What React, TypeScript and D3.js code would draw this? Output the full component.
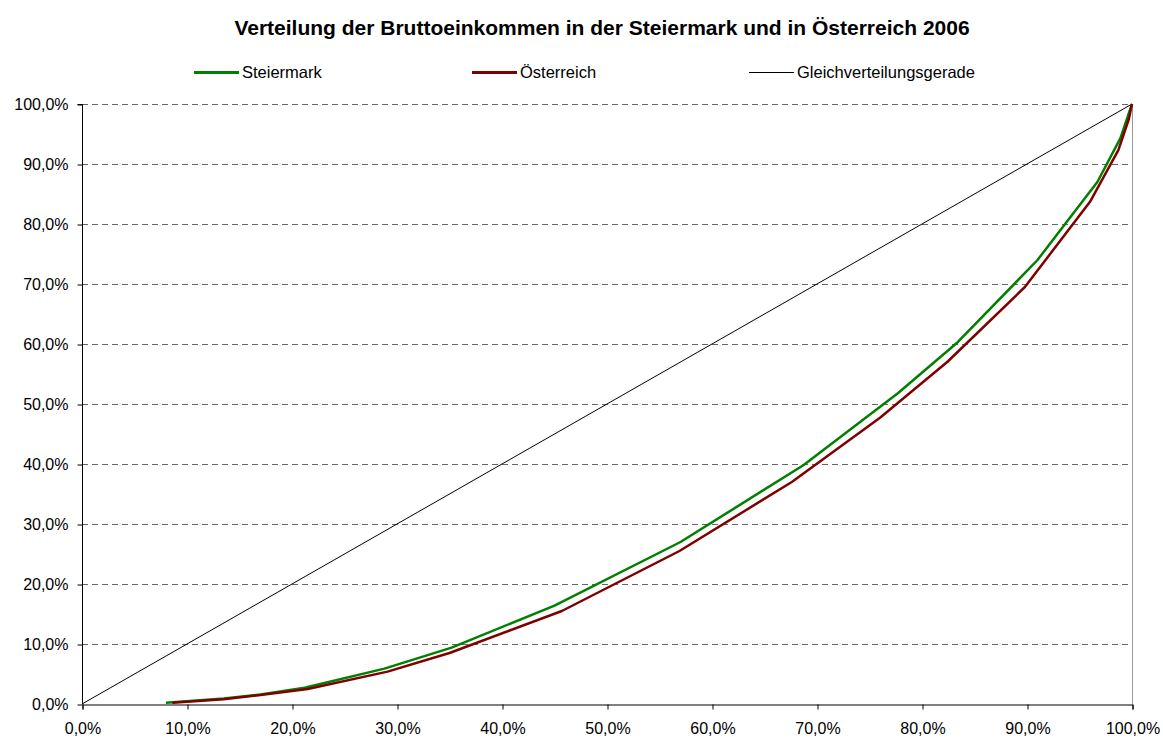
import React, { useEffect, useRef } from 'react';
import * as d3 from 'd3';

// cumulative share of earners (x) vs. cumulative share of income (y), in %
const steiermarkX = [8.0, 13.5, 17.0, 21.2, 28.8, 35.2, 45.0, 57.0, 68.7, 77.7, 83.4, 91.0, 96.7, 98.9, 100];
const steiermarkY = [0.2, 0.9, 1.6, 2.7, 5.9, 9.4, 16.4, 27.0, 39.8, 51.8, 60.3, 74.0, 87.0, 94.3, 100];
const oesterreichX = [8.6, 13.5, 17.0, 21.5, 29.1, 35.0, 45.7, 56.9, 67.6, 76.0, 82.4, 89.8, 96.0, 98.7, 99.7, 100];
const oesterreichY = [0.2, 0.8, 1.5, 2.5, 5.4, 8.5, 15.5, 25.5, 37.0, 47.7, 57.0, 69.5, 83.7, 92.3, 97.5, 100];
const gleichX = [0, 100];
const gleichY = [0, 100];

const ticks = [0, 10, 20, 30, 40, 50, 60, 70, 80, 90, 100];
const title = 'Verteilung der Bruttoeinkommen in der Steiermark und in Österreich 2006';

const fmt = (v: number) => v.toFixed(1).replace('.', ',') + '%';

const App = () => {
  const ref = useRef<SVGSVGElement>(null);

  useEffect(() => {
    const width = 1163;
    const height = 738;
    const left = 82, right = 1132, top = 104, bottom = 704;

    const svg = d3.select(ref.current);
    svg.selectAll('*').remove();
    svg.attr('width', width).attr('height', height);

    const x = d3.scaleLinear().domain([0, 100]).range([left, right]);
    const y = d3.scaleLinear().domain([0, 100]).range([bottom, top]);

    const font = "'Liberation Sans', Arial, sans-serif";

    svg.append('text')
      .attr('x', 602).attr('y', 35)
      .attr('text-anchor', 'middle')
      .attr('font-family', font).attr('font-size', 21).attr('font-weight', 'bold')
      .text(title);

    // grid
    svg.append('g').selectAll('line')
      .data(ticks.slice(1))
      .enter().append('line')
      .attr('x1', left).attr('x2', right)
      .attr('y1', (d) => y(d) + 0.5).attr('y2', (d) => y(d) + 0.5)
      .attr('stroke', '#666').attr('stroke-width', 1)
      .attr('stroke-dasharray', '6,4');

    // right border
    svg.append('line')
      .attr('x1', right + 0.5).attr('x2', right + 0.5)
      .attr('y1', top).attr('y2', bottom)
      .attr('stroke', '#999');

    // axes
    const yAxis = d3.axisLeft(y).tickValues(ticks).tickFormat((d: any) => fmt(d)).tickSize(5).tickPadding(9);
    const xAxis = d3.axisBottom(x).tickValues(ticks).tickFormat((d: any) => fmt(d)).tickSize(5).tickPadding(13);

    const gy = svg.append('g').attr('transform', `translate(${left + 0.5},0.5)`).call(yAxis);
    const gx = svg.append('g').attr('transform', `translate(0.5,${bottom + 0.5})`).call(xAxis);
    [gx, gy].forEach((g) => {
      g.select('.domain').attr('stroke', '#000');
      g.selectAll('.tick line').attr('stroke', '#000');
      g.selectAll('text').attr('font-family', font).attr('font-size', 16).attr('fill', '#000');
    });
    gy.select('.domain').attr('d', `M-5,${top}H0V${bottom}`);

    const line = d3.line<[number, number]>().x((d) => x(d[0])).y((d) => y(d[1]));
    const series = [
      { xs: gleichX, ys: gleichY, color: '#000', w: 1 },
      { xs: steiermarkX, ys: steiermarkY, color: '#008000', w: 2.5 },
      { xs: oesterreichX, ys: oesterreichY, color: '#800000', w: 2.5 },
    ];
    series.forEach((s) => {
      const pts = s.xs.map((v, i) => [v, s.ys[i]] as [number, number]);
      svg.append('path')
        .attr('d', line(pts))
        .attr('fill', 'none')
        .attr('stroke', s.color)
        .attr('stroke-width', s.w)
        .attr('stroke-linejoin', 'round');
    });

    // legend
    const legend = [
      { label: 'Steiermark', color: '#008000', w: 3, x0: 194 },
      { label: 'Österreich', color: '#800000', w: 3, x0: 472 },
      { label: 'Gleichverteilungsgerade', color: '#000', w: 1, x0: 749 },
    ];
    const lg = svg.append('g');
    legend.forEach((l) => {
      lg.append('line')
        .attr('x1', l.x0).attr('x2', l.x0 + 45)
        .attr('y1', 72.5).attr('y2', 72.5)
        .attr('stroke', l.color).attr('stroke-width', l.w);
      lg.append('text')
        .attr('x', l.x0 + 48).attr('y', 78)
        .attr('font-family', font).attr('font-size', 16.5)
        .text(l.label);
    });
  }, []);

  return <svg ref={ref} style={{ position: 'absolute', left: 0, top: 0 }} />;
};

export default App;
